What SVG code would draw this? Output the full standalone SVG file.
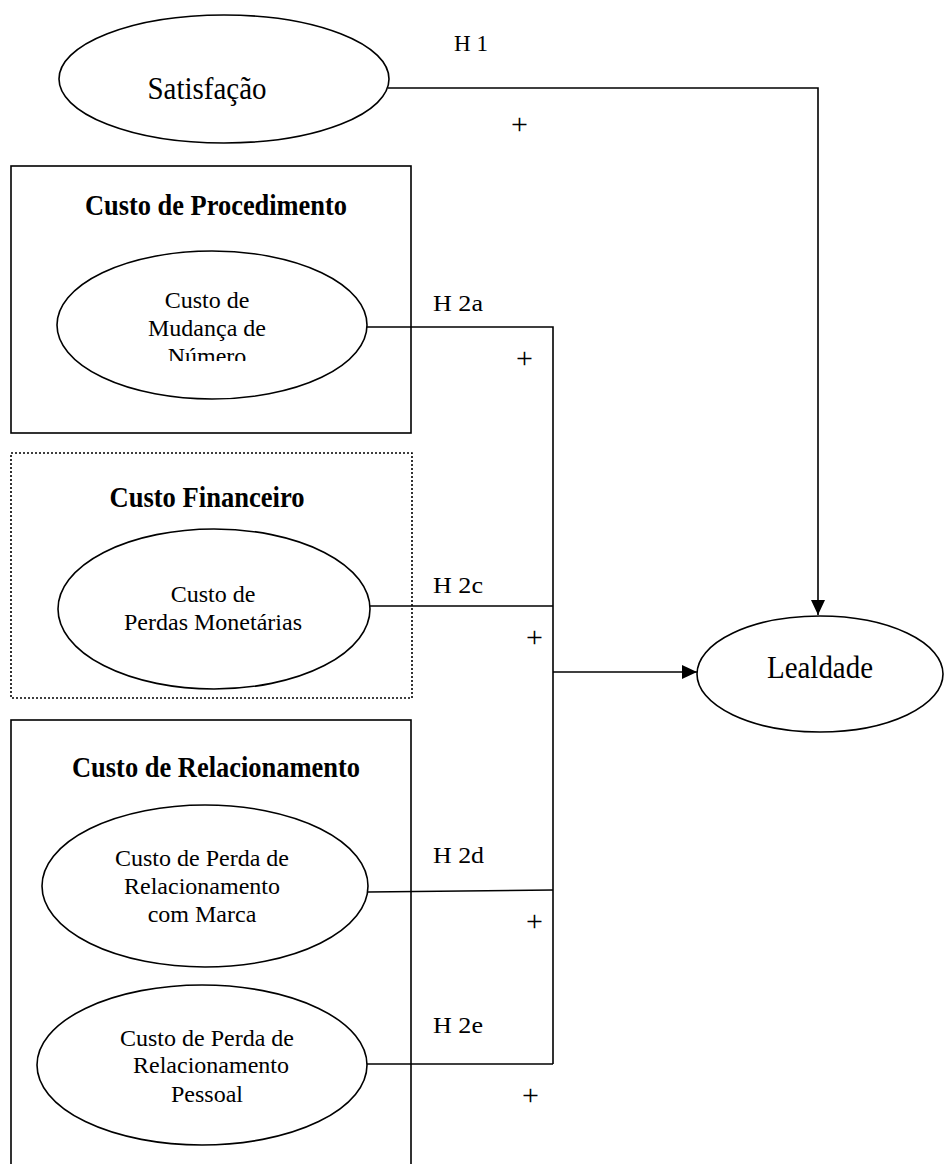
<svg xmlns="http://www.w3.org/2000/svg" width="945" height="1164" viewBox="0 0 945 1164">
  <style>
    .bg { fill: #ffffff; }
    .shape { fill: #ffffff; stroke: #000000; stroke-width: 1.6; }
    .frame { fill: none; stroke: #000000; stroke-width: 1.6; }
    .dotted { fill: none; stroke: #000000; stroke-width: 1.6; stroke-dasharray: 2 2; }
    .link { fill: none; stroke: #000000; stroke-width: 1.6; }
    text { font-family: "Liberation Serif", "Times New Roman", serif; fill: #000000; }
    .big { font-size: 31px; text-anchor: middle; }
    .title { font-size: 30px; font-weight: bold; text-anchor: middle; }
    .inner { font-size: 24px; text-anchor: middle; }
    .lbl { font-size: 24px; }
    .plus { font-size: 30px; }
  </style>
  <defs>
    <marker id="arrow" markerUnits="userSpaceOnUse" markerWidth="16" markerHeight="14" refX="15" refY="7" orient="auto">
      <path d="M0,0 L15,7 L0,14 Z" fill="#000000"/>
    </marker>
    <clipPath id="clipNumero">
      <rect x="100" y="330" width="220" height="31"/>
    </clipPath>
  </defs>
  <rect class="bg" x="0" y="0" width="945" height="1164"/>

  <!-- group frames -->
  <g id="grupo-procedimento">
    <rect class="frame" x="11" y="166" width="400" height="267"/>
    <text class="title" x="216" y="215" textLength="262" lengthAdjust="spacingAndGlyphs">Custo de Procedimento</text>
  </g>
  <g id="grupo-financeiro">
    <rect class="dotted" x="11" y="453" width="401" height="245"/>
    <text class="title" x="207" y="507" textLength="195" lengthAdjust="spacingAndGlyphs">Custo Financeiro</text>
  </g>
  <g id="grupo-relacionamento">
    <rect class="frame" x="11" y="720" width="400" height="470"/>
    <text class="title" x="216" y="777" textLength="288" lengthAdjust="spacingAndGlyphs">Custo de Relacionamento</text>
  </g>

  <!-- connectors -->
  <g id="connectors">
    <path class="link" d="M388,88 H818 V615" marker-end="url(#arrow)"/>
    <path class="link" d="M367,327 H553 V1064"/>
    <path class="link" d="M370,606 H553"/>
    <path class="link" d="M368,892 L553,890"/>
    <path class="link" d="M367,1064 H553"/>
    <path class="link" d="M553,672 H697" marker-end="url(#arrow)"/>
    <text class="lbl" x="454" y="51" font-size="25" textLength="34" lengthAdjust="spacingAndGlyphs">H 1</text>
    <text class="plus" x="511" y="134">+</text>
    <text class="lbl" x="433" y="311" textLength="50" lengthAdjust="spacingAndGlyphs">H 2a</text>
    <text class="plus" x="516" y="368">+</text>
    <text class="lbl" x="433" y="593" textLength="50" lengthAdjust="spacingAndGlyphs">H 2c</text>
    <text class="plus" x="526" y="647">+</text>
    <text class="lbl" x="433" y="863" textLength="51" lengthAdjust="spacingAndGlyphs">H 2d</text>
    <text class="plus" x="526" y="931">+</text>
    <text class="lbl" x="433" y="1033" textLength="50" lengthAdjust="spacingAndGlyphs">H 2e</text>
    <text class="plus" x="522" y="1105">+</text>
  </g>

  <!-- latent constructs -->
  <g id="satisfacao">
    <ellipse class="shape" cx="224" cy="79" rx="165" ry="64"/>
    <text class="big" x="207" y="99" textLength="119" lengthAdjust="spacingAndGlyphs">Satisfação</text>
  </g>
  <g id="mudanca-numero">
    <ellipse class="shape" cx="212" cy="325" rx="155" ry="74"/>
    <text class="inner" x="207" y="308">Custo de</text>
    <text class="inner" x="207" y="336">Mudança de</text>
    <text class="inner" x="207" y="364" clip-path="url(#clipNumero)">Número</text>
  </g>
  <g id="perdas-monetarias">
    <ellipse class="shape" cx="214" cy="609" rx="156" ry="80"/>
    <text class="inner" x="213" y="602">Custo de</text>
    <text class="inner" x="213" y="630">Perdas Monetárias</text>
  </g>
  <g id="relacionamento-marca">
    <ellipse class="shape" cx="205" cy="886" rx="163" ry="81"/>
    <text class="inner" x="202" y="866">Custo de Perda de</text>
    <text class="inner" x="202" y="894">Relacionamento</text>
    <text class="inner" x="202" y="922">com Marca</text>
  </g>
  <g id="relacionamento-pessoal">
    <ellipse class="shape" cx="202" cy="1065" rx="165" ry="80"/>
    <text class="inner" x="207" y="1046">Custo de Perda de</text>
    <text class="inner" x="211" y="1073">Relacionamento</text>
    <text class="inner" x="207" y="1102">Pessoal</text>
  </g>
  <g id="lealdade">
    <ellipse class="shape" cx="820" cy="674" rx="123" ry="58"/>
    <text class="big" x="820" y="678" textLength="106" lengthAdjust="spacingAndGlyphs">Lealdade</text>
  </g>
</svg>
